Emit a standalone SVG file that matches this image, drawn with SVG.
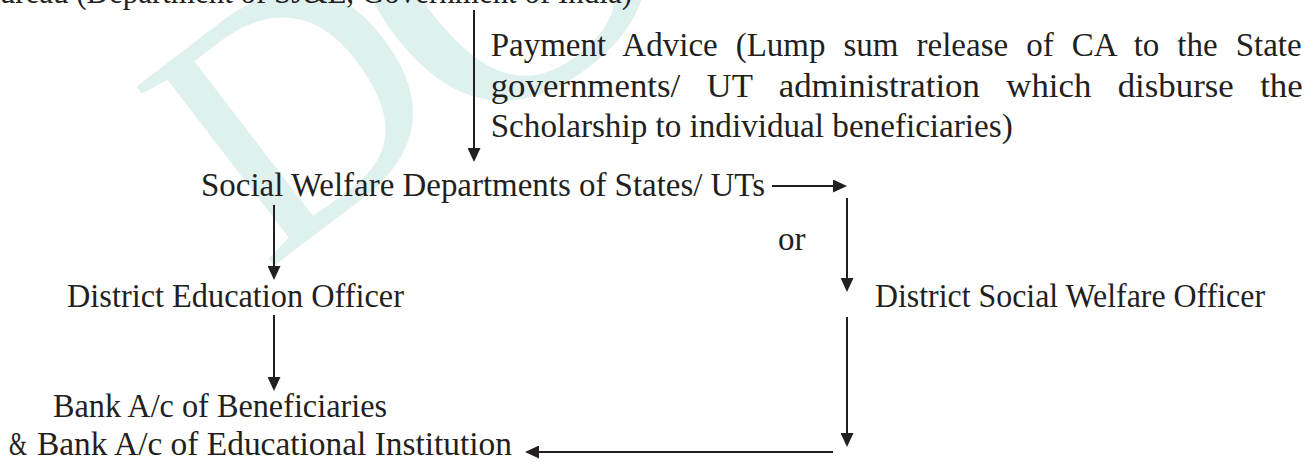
<svg xmlns="http://www.w3.org/2000/svg" width="1309" height="462" viewBox="0 0 1309 462">
<defs>
<style>
.t{font-family:"Liberation Serif","Times New Roman",serif;font-size:33px;fill:#231f20}
.c{stroke:#231f20;stroke-width:2;fill:none;marker-end:url(#ah)}
.wm{font-family:"Liberation Serif",serif;font-size:345px;fill:#dff1ee}
</style>
<marker id="ah" markerUnits="userSpaceOnUse" markerWidth="14" markerHeight="13" refX="8" refY="6.5" orient="auto">
<path d="M0,0 L14,6.5 L0,13 z" fill="#231f20"/>
</marker>
</defs>
<rect width="1309" height="462" fill="#ffffff"/>
<g id="watermark">
<text class="wm" transform="translate(266,272) rotate(-37.5)">D<tspan dx="-20" dy="30" font-size="420">OE</tspan></text>
</g>
<g id="connectors">
<line class="c" x1="474" y1="10" x2="474" y2="156"/>
<line class="c" x1="772" y1="186" x2="841" y2="186"/>
<line class="c" x1="847" y1="198" x2="847" y2="286"/>
<line class="c" x1="847" y1="317" x2="847" y2="441"/>
<line class="c" x1="833" y1="452" x2="531" y2="452"/>
<line class="c" x1="274" y1="205" x2="274" y2="274"/>
<line class="c" x1="274" y1="315" x2="274" y2="385"/>
</g>
<g id="node-top">
<text class="t" x="-21" y="3" textLength="653" lengthAdjust="spacingAndGlyphs">Bureau (Department of SJ&amp;E, Government of India)</text>
</g>
<g id="label-payment">
<text class="t" x="490.7" y="56" word-spacing="9.75" textLength="811" lengthAdjust="spacingAndGlyphs">Payment Advice (Lump sum release of CA to the State</text>
<text class="t" x="490.7" y="97" word-spacing="16.75" textLength="812" lengthAdjust="spacingAndGlyphs">governments/ UT administration which disburse the</text>
<text class="t" x="490.7" y="137" textLength="522" lengthAdjust="spacingAndGlyphs">Scholarship to individual beneficiaries)</text>
</g>
<g id="node-swd">
<text class="t" x="201" y="196" textLength="564" lengthAdjust="spacingAndGlyphs">Social Welfare Departments of States/ UTs</text>
</g>
<g id="label-or">
<text class="t" x="778" y="250">or</text>
</g>
<g id="node-deo">
<text class="t" x="67" y="307" textLength="337" lengthAdjust="spacingAndGlyphs">District Education Officer</text>
</g>
<g id="node-dswo">
<text class="t" x="875" y="307" textLength="390" lengthAdjust="spacingAndGlyphs">District Social Welfare Officer</text>
</g>
<g id="node-bank">
<text class="t" x="53" y="417" textLength="334" lengthAdjust="spacingAndGlyphs">Bank A/c of Beneficiaries</text>
<text class="t" y="455"><tspan x="9" textLength="18" lengthAdjust="spacingAndGlyphs">&amp;</tspan><tspan x="37" textLength="475" lengthAdjust="spacingAndGlyphs">Bank A/c of Educational Institution</tspan></text>
</g>
</svg>
